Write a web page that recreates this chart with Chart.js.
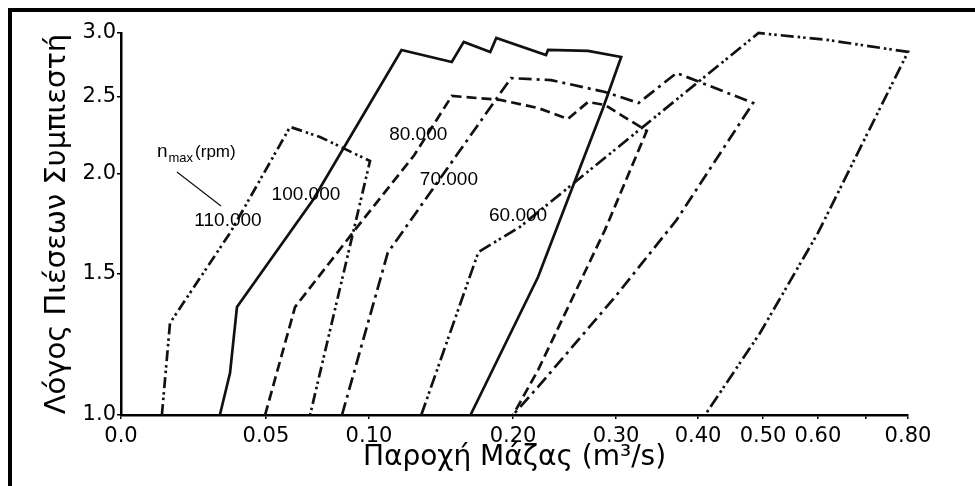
<!DOCTYPE html>
<html lang="el">
<head>
<meta charset="UTF-8">
<title>Χάρτης συμπιεστή</title>
<script src="https://cdn.jsdelivr.net/npm/chart.js"></script>
<style>
  html, body { margin: 0; padding: 0; background: #fff; }
  #wrap { width: 975px; height: 486px; position: relative; }
</style>
</head>
<body>
<div id="wrap"><canvas id="mapChart"></canvas></div>
<script>
// τιμές διαβασμένες από το σχήμα: παροχή (m3/s) και λόγος πιέσεων
const q110 = [0.0141, 0.0169, 0.0376, 0.0617, 0.0762, 0.1007, 0.0714];
const pr110 = [1.000, 1.303, 1.688, 2.290, 2.225, 2.076, 1.000];

const q100 = [0.0341, 0.0376, 0.0400, 0.0728, 0.1226, 0.1575, 0.1658, 0.1842, 0.1884, 0.2320, 0.2340, 0.2728, 0.3063, 0.2874, 0.2612, 0.2243, 0.1705];
const pr100 = [1.000, 1.128, 1.364, 1.856, 2.857, 2.760, 2.924, 2.841, 2.958, 2.816, 2.857, 2.849, 2.800, 2.418, 1.977, 1.487, 1.000];

const q80 = [0.0497, 0.0641, 0.0932, 0.1315, 0.1575, 0.1911, 0.2243, 0.2534, 0.2728, 0.2893, 0.3375, 0.2893, 0.2243, 0.2000];
const pr80 = [1.000, 1.364, 1.703, 2.112, 2.503, 2.475, 2.418, 2.343, 2.460, 2.439, 2.264, 1.703, 1.138, 1.000];

const q70 = [0.0869, 0.1130, 0.1986, 0.2369, 0.2893, 0.3275, 0.3738, 0.4846, 0.3738, 0.2990, 0.2243, 0.2000];
const pr70 = [1.000, 1.594, 2.635, 2.620, 2.532, 2.453, 2.674, 2.453, 1.752, 1.404, 1.084, 1.000];

const q60 = [0.1363, 0.1760, 0.2068, 0.4930, 0.6188, 0.8000, 0.6000, 0.4954, 0.4108];
const pr60 = [1.000, 1.598, 1.718, 3.000, 2.941, 2.841, 1.688, 1.266, 1.000];

// ετικέτες στροφών
const speedText = ['110.000', '100.000', '80.000', '70.000', '60.000'];
const speedLabelQ = [0.0369, 0.0694, 0.1342, 0.1555, 0.2049];
const speedLabelPR = [1.747, 1.883, 2.237, 1.966, 1.772];
const nmaxQ = 0.0124, nmaxPR = 2.101;
const leaderQ = [0.0193, 0.0345];
const leaderPR = [2.012, 1.824];

// άξονες
const xTickVals = [0, 0.05, 0.10, 0.20, 0.30, 0.40, 0.50, 0.60, 0.70, 0.80];
const xTickText = ['0.0', '0.05', '0.10', '0.20', '0.30', '0.40', '0.50', '0.60', '', '0.80'];
const yTickVals = [1.0, 1.5, 2.0, 2.5, 3.0];

// ο άξονας x του πρωτοτύπου δεν είναι ούτε γραμμικός ούτε λογαριθμικός,
// οπότε κάθε διάστημα μεταξύ ticks έχει το δικό του μήκος
const xStretch = [0, 0.1842, 0.3151, 0.4981, 0.6290, 0.7332, 0.8158, 0.8856, 0.9466, 1];

function warp(v) {
  const a = xTickVals, f = xStretch;
  for (let i = 1; i < a.length; i++) {
    if (v <= a[i] || i === a.length - 1) {
      return f[i - 1] + (v - a[i - 1]) / (a[i] - a[i - 1]) * (f[i] - f[i - 1]);
    }
  }
}
function unwarp(d) {
  const a = xTickVals, f = xStretch;
  for (let i = 1; i < f.length; i++) {
    if (d <= f[i] || i === f.length - 1) {
      return a[i - 1] + (d - f[i - 1]) / (f[i] - f[i - 1]) * (a[i] - a[i - 1]);
    }
  }
}

class WarpScale extends Chart.LinearScale {
  getPixelForValue(value) {
    if (value === null || value === undefined) return NaN;
    return this.getPixelForDecimal(warp(value));
  }
  getValueForPixel(pixel) {
    return unwarp(this.getDecimalForPixel(pixel));
  }
}
WarpScale.id = 'warp';
WarpScale.defaults = Chart.LinearScale.defaults;
Chart.register(WarpScale);

Chart.defaults.font.family = '"DejaVu Sans", sans-serif';
Chart.defaults.color = '#000';

function curve(q, pr, dash) {
  return {
    data: q.map((v, i) => ({ x: v, y: pr[i] })),
    showLine: true,
    borderColor: '#111',
    borderWidth: 2.7,
    borderDash: dash,
    borderCapStyle: 'butt',
    borderJoinStyle: 'miter',
    pointRadius: 0,
    tension: 0,
    fill: false,
    clip: 4
  };
}

const leader = curve(leaderQ, leaderPR, []);
leader.borderWidth = 1.2;

// πλαίσιο της εικόνας (πάνω και αριστερά)
const framePlugin = {
  id: 'frame',
  beforeDraw(chart) {
    const ctx = chart.ctx;
    ctx.save();
    ctx.fillStyle = '#000';
    ctx.fillRect(8, 8, 4, chart.height - 8);
    ctx.fillRect(8, 8, chart.width - 8, 4);
    ctx.restore();
  }
};

const textPlugin = {
  id: 'mapText',
  afterDatasetsDraw(chart) {
    const { ctx, scales: { x, y } } = chart;
    const fam = '"Liberation Sans", Arial, sans-serif';
    ctx.save();
    ctx.fillStyle = '#000';
    ctx.textAlign = 'center';
    ctx.textBaseline = 'middle';
    ctx.font = '19px ' + fam;
    speedText.forEach((t, i) => {
      ctx.fillText(t, x.getPixelForValue(speedLabelQ[i]), y.getPixelForValue(speedLabelPR[i]));
    });
    // n_max (rpm)
    let px = x.getPixelForValue(nmaxQ);
    const py = y.getPixelForValue(nmaxPR);
    ctx.textAlign = 'left';
    ctx.textBaseline = 'alphabetic';
    ctx.font = '19px ' + fam;
    ctx.fillText('n', px, py);
    px += ctx.measureText('n').width + 1;
    ctx.font = '13px ' + fam;
    ctx.fillText('max', px, py + 5);
    px += ctx.measureText('max').width + 2;
    ctx.font = '17px ' + fam;
    ctx.fillText('(rpm)', px, py);
    ctx.restore();
  }
};

new Chart(document.getElementById('mapChart'), {
  type: 'scatter',
  data: {
    datasets: [
      curve(q110, pr110, [11, 4, 2.5, 3, 2.5, 4]),
      curve(q100, pr100, []),
      curve(q80, pr80, [10, 5]),
      curve(q70, pr70, [13, 5, 3, 5]),
      curve(q60, pr60, [13, 4, 2.5, 3, 2.5, 4]),
      leader
    ]
  },
  options: {
    responsive: true,
    maintainAspectRatio: false,
    animation: false,
    layout: { padding: { left: 0, top: 33, right: 67, bottom: 0 } },
    plugins: {
      legend: { display: false },
      tooltip: { enabled: false }
    },
    scales: {
      x: {
        type: 'warp',
        min: 0,
        max: 0.8,
        afterBuildTicks: s => { s.ticks = xTickVals.map(v => ({ value: v })); },
        afterFit: s => { s.height = 71; },
        ticks: {
          autoSkip: false,
          maxRotation: 0,
          padding: 5,
          font: { size: 21 },
          callback: (v, i) => xTickText[i]
        },
        grid: { drawOnChartArea: false, tickLength: 4, color: '#000', lineWidth: 1.5 },
        border: { color: '#000', width: 2.5 },
        title: {
          display: true,
          text: 'Παροχή Μάζας (m³/s)',
          font: { size: 28 },
          padding: { top: 0, bottom: 11 }
        }
      },
      y: {
        type: 'logarithmic',
        min: 1,
        max: 3,
        afterBuildTicks: s => { s.ticks = yTickVals.map(v => ({ value: v })); },
        afterFit: s => { s.width = 121; },
        ticks: {
          autoSkip: false,
          padding: 1,
          font: { size: 21 },
          callback: v => Number(v).toFixed(1)
        },
        grid: { drawOnChartArea: false, tickLength: 4, color: '#000', lineWidth: 1.5 },
        border: { color: '#000', width: 2.5 },
        title: {
          display: true,
          text: 'Λόγος Πιέσεων Συμπιεστή',
          font: { size: 29 },
          padding: { top: 40, bottom: 0 }
        }
      }
    }
  },
  plugins: [framePlugin, textPlugin]
});
</script>
</body>
</html>
